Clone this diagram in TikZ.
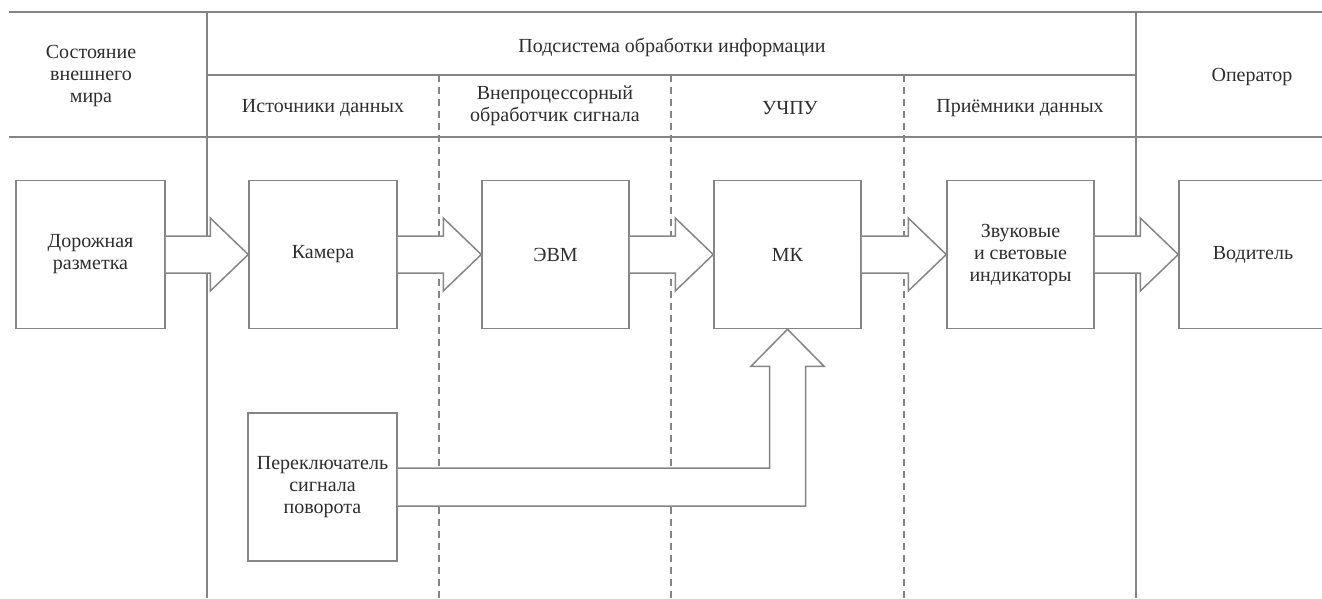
\documentclass[tikz,border=0pt]{standalone}
\usepackage{fontspec}
\setmainfont{Liberation Serif}
\usetikzlibrary{calc}
\definecolor{linec}{HTML}{858585}
\definecolor{txtc}{HTML}{2E2E2E}
\newcommand{\txtfont}{\fontsize{20}{22}\selectfont}
\newcommand{\harr}[2]{%
  \path[fill=white] ($(#1.east)+(0,-18.5)$) -- ($(#2.west)+(-38,-18.5)$) -- ($(#2.west)+(-38,-36.5)$) -- (#2.west) -- ($(#2.west)+(-38,36.5)$) -- ($(#2.west)+(-38,18.5)$) -- ($(#1.east)+(0,18.5)$) -- cycle;
  \draw[ln] ($(#1.east)+(0,-18.5)$) -- ($(#2.west)+(-38,-18.5)$) -- ($(#2.west)+(-38,-36.5)$) -- (#2.west) -- ($(#2.west)+(-38,36.5)$) -- ($(#2.west)+(-38,18.5)$) -- ($(#1.east)+(0,18.5)$);}
\begin{document}
\begin{tikzpicture}[x=1pt,y=-1pt,
  ln/.style={draw=linec,line width=1.5pt,line join=miter},
  dsh/.style={draw=linec,line width=1.3pt,dash pattern=on 7pt off 5pt},
  blk/.style={draw=linec,line width=1.5pt,fill=white,minimum width=148pt,minimum height=148pt,inner sep=0pt,align=center,text=txtc,font=\txtfont},
  lbl/.style={align=center,text=txtc,font=\txtfont,inner sep=0pt}]
\useasboundingbox (0,0) rectangle (1322,598);
\begin{scope}
\clip (0,0) rectangle (1322,598);
% grid
\draw[ln] (9,12) -- (1322,12);
\draw[ln] (207,75) -- (1136,75);
\draw[ln] (9,137) -- (1322,137);
\draw[ln] (207,12) -- (207,598);
\draw[ln] (1136,12) -- (1136,598);
\draw[dsh] (439,75) -- (439,598);
\draw[dsh] (671,75) -- (671,598);
\draw[dsh] (904,75) -- (904,598);
% headers
\node[lbl] (hworld) at (91,76) {Состояние\\внешнего\\мира};
\node[lbl] (hsub) at (672,47) {Подсистема обработки информации};
\node[lbl] (hsrc) at (323,108) {Источники данных};
\node[lbl] (hproc) at (555,106) {Внепроцессорный\\обработчик сигнала};
\node[lbl] (hcnc) at (790,108) {УЧПУ};
\node[lbl] (hrcv) at (1020,108) {Приёмники данных};
\node[lbl] (hop) at (1252,77) {Оператор};
% boxes
\node[blk,minimum width=149pt] (road) at (90.5,254.5) {Дорожная\\разметка};
\node[blk] (cam) at (323,254.5) {Камера};
\node[blk,minimum width=147pt] (evm) at (555.5,254.5) {ЭВМ};
\node[blk,minimum width=147pt] (mk) at (787.5,254.5) {МК};
\node[blk,minimum width=147pt] (snd) at (1020.5,254.5) {Звуковые\\и световые\\индикаторы};
\node[blk] (drv) at (1253,254.5) {Водитель};
\node[blk,minimum width=149pt] (sw) at (322.5,487) {Переключатель\\сигнала\\поворота};
% block arrows
\harr{road}{cam}
\harr{cam}{evm}
\harr{evm}{mk}
\harr{mk}{snd}
\harr{snd}{drv}
\coordinate (s1) at ($(sw.east)+(0,-19)$);
\coordinate (s2) at ($(sw.east)+(0,19)$);
\coordinate (m1) at ($(mk.south)+(-18,37)$);
\coordinate (m2) at ($(mk.south)+(18,37)$);
\coordinate (h1) at ($(mk.south)+(-36.5,37)$);
\coordinate (h2) at ($(mk.south)+(36.5,37)$);
\path[fill=white] (s1) -- (m1 |- s1) -- (m1) -- (h1) -- (mk.south) -- (h2) -- (m2) -- (m2 |- s2) -- (s2) -- cycle;
\draw[ln] (s1) -- (m1 |- s1) -- (m1) -- (h1) -- (mk.south) -- (h2) -- (m2) -- (m2 |- s2) -- (s2);
\end{scope}
\end{tikzpicture}
\end{document}
